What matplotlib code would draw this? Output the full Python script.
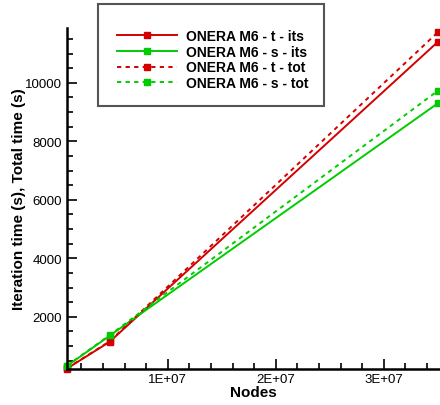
import matplotlib.pyplot as plt
from matplotlib.patches import Rectangle
from matplotlib.ticker import MultipleLocator, FuncFormatter

# Data
nodes = [0.065e7, 0.46e7, 3.5e7]
t_its = [230, 1145, 11400]
s_its = [320, 1350, 9300]
t_tot = [240, 1160, 11730]
s_tot = [330, 1370, 9730]

labels = ['ONERA M6 - t - its', 'ONERA M6 - s - its',
          'ONERA M6 - t - tot', 'ONERA M6 - s - tot']

red = '#d40000'
green = '#00cc00'

plt.rcParams['font.family'] = ['Liberation Sans', 'DejaVu Sans']

fig = plt.figure(figsize=(4.4, 4.06), dpi=100)
ax = fig.add_axes([0.152, 0.089, 0.848, 0.840])

dash = (0, (2.2, 2.2))
ax.plot(nodes, t_its, color=red, lw=1.4, marker='s', ms=4, label=labels[0], clip_on=False)
ax.plot(nodes, s_its, color=green, lw=1.4, marker='s', ms=4, label=labels[1], clip_on=False)
ax.plot(nodes, t_tot, color=red, lw=1.4, ls=dash, marker='s', ms=4, label=labels[2], clip_on=False)
ax.plot(nodes, s_tot, color=green, lw=1.4, ls=dash, marker='s', ms=4, label=labels[3], clip_on=False)

ax.set_xlim(0.065e7, 3.52e7)
ax.set_ylim(222, 11880)

ax.xaxis.set_major_locator(MultipleLocator(1e7))
ax.xaxis.set_minor_locator(MultipleLocator(0.2e7))
ax.yaxis.set_major_locator(MultipleLocator(2000))
ax.yaxis.set_minor_locator(MultipleLocator(500))
ax.xaxis.set_major_formatter(FuncFormatter(lambda v, p: '%dE+07' % round(v / 1e7)))

ax.tick_params(which='both', direction='in', labelsize=9.5, width=1.2)
ax.tick_params(which='major', length=7)
ax.tick_params(which='minor', length=4)
ax.tick_params(axis='x', pad=3)

for side in ['top', 'right']:
    ax.spines[side].set_visible(False)
for side in ['left', 'bottom']:
    ax.spines[side].set_linewidth(1.8)

ax.set_xlabel('Nodes', fontsize=11, fontweight='bold', labelpad=0)
ax.set_ylabel('Iteration time (s), Total time (s)', fontsize=11, fontweight='bold', labelpad=-1)

# Legend entries without frame; the box is drawn separately
leg = fig.legend(loc='upper left', bbox_to_anchor=(0.266, 0.926), numpoints=1,
                 handlelength=4.3, frameon=False, borderpad=0, borderaxespad=0,
                 prop={'size': 10, 'weight': 'bold'}, labelspacing=0.12, handletextpad=0.7)
fig.add_artist(Rectangle((0.2227, 0.7365), 0.5136, 0.2512, transform=fig.transFigure,
                         facecolor='white', edgecolor='#555555', lw=1.5, zorder=1))
leg.set_zorder(2)

plt.savefig('out.png', dpi=100)
